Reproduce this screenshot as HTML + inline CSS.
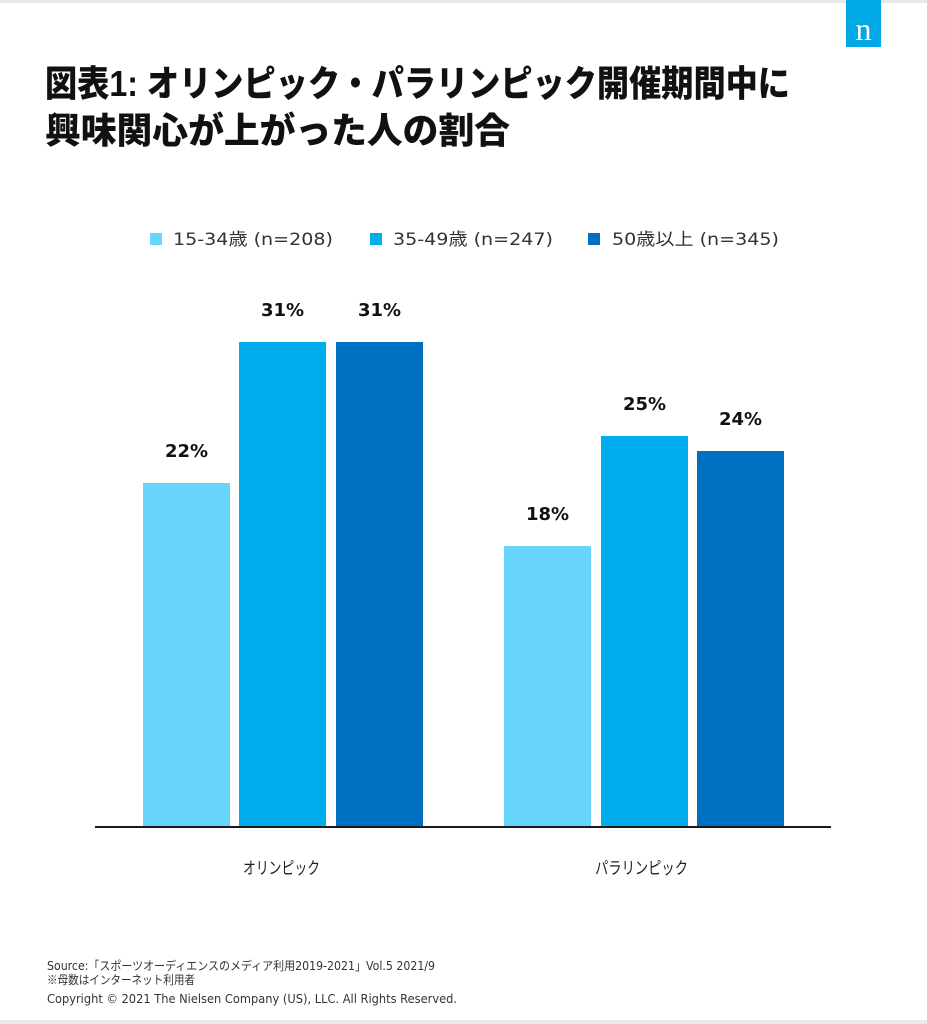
<!DOCTYPE html>
<html>
<head>
<meta charset="utf-8">
<style>
html,body{margin:0;padding:0;background:#fff;}
svg{display:block;}
</style>
</head>
<body>
<svg width="927" height="1024" viewBox="0 0 927 1024" xmlns="http://www.w3.org/2000/svg">
  <rect x="0" y="0" width="927" height="1024" fill="#ffffff"/>
  <!-- top and bottom strips -->
  <rect x="0" y="0" width="927" height="3" fill="#e6e9ec"/>
  <rect x="0" y="1020" width="927" height="4" fill="#e8ebee"/>

  <!-- logo -->
  <rect x="846" y="0" width="35" height="47" fill="#00a8e6"/>
  <text x="863.5" y="40" text-anchor="middle" font-family="'Liberation Serif', serif" font-size="32" fill="#ffffff">n</text>

  <!-- title -->
  <text x="45" y="96" font-family="'Liberation Sans','Noto Sans CJK JP',sans-serif" font-weight="900" font-size="36" fill="#111" textLength="745" lengthAdjust="spacingAndGlyphs">図表1: オリンピック・パラリンピック開催期間中に</text>
  <text x="45" y="143" font-family="'Liberation Sans','Noto Sans CJK JP',sans-serif" font-weight="900" font-size="36" fill="#111" textLength="465" lengthAdjust="spacingAndGlyphs">興味関心が上がった人の割合</text>

  <!-- legend -->
  <rect x="150" y="233" width="12" height="12" fill="#67d5f9"/>
  <text x="173" y="245" font-family="'DejaVu Sans','Noto Sans CJK JP',sans-serif" font-size="17" fill="#333" textLength="160" lengthAdjust="spacingAndGlyphs">15-34歳 (n=208)</text>
  <rect x="370" y="233" width="12" height="12" fill="#00aeef"/>
  <text x="393" y="245" font-family="'DejaVu Sans','Noto Sans CJK JP',sans-serif" font-size="17" fill="#333" textLength="160" lengthAdjust="spacingAndGlyphs">35-49歳 (n=247)</text>
  <rect x="588" y="233" width="12" height="12" fill="#0070c0"/>
  <text x="612" y="245" font-family="'DejaVu Sans','Noto Sans CJK JP',sans-serif" font-size="17" fill="#333" textLength="167" lengthAdjust="spacingAndGlyphs">50歳以上 (n=345)</text>

  <!-- bars group 1 -->
  <rect x="143" y="483" width="87" height="344" fill="#67d5f9"/>
  <rect x="239" y="342" width="87" height="485" fill="#00aeef"/>
  <rect x="336" y="342" width="87" height="485" fill="#0070c0"/>
  <!-- bars group 2 -->
  <rect x="504" y="546" width="87" height="281" fill="#67d5f9"/>
  <rect x="601" y="436" width="87" height="391" fill="#00aeef"/>
  <rect x="697" y="451" width="87" height="376" fill="#0070c0"/>

  <!-- value labels -->
  <g font-family="'DejaVu Sans',sans-serif" font-weight="700" font-size="18" fill="#111" text-anchor="middle">
    <text x="186.5" y="457">22%</text>
    <text x="282.5" y="316">31%</text>
    <text x="379.5" y="316">31%</text>
    <text x="547.5" y="520">18%</text>
    <text x="644.5" y="410">25%</text>
    <text x="740.5" y="425">24%</text>
  </g>

  <!-- axis -->
  <rect x="95" y="826" width="736" height="2" fill="#1a1a1a"/>

  <!-- category labels -->
  <text x="243" y="874" font-family="'Liberation Sans','Noto Sans CJK JP',sans-serif" font-size="17" fill="#222" textLength="77" lengthAdjust="spacingAndGlyphs">オリンピック</text>
  <text x="595" y="874" font-family="'Liberation Sans','Noto Sans CJK JP',sans-serif" font-size="17" fill="#222" textLength="93" lengthAdjust="spacingAndGlyphs">パラリンピック</text>

  <!-- footer -->
  <text x="47" y="970" font-family="'DejaVu Sans','Noto Sans CJK JP',sans-serif" font-size="12" fill="#333" textLength="388" lengthAdjust="spacingAndGlyphs">Source:「スポーツオーディエンスのメディア利用2019-2021」Vol.5 2021/9</text>
  <text x="47" y="984" font-family="'Liberation Sans','Noto Sans CJK JP',sans-serif" font-size="12" fill="#333" textLength="148" lengthAdjust="spacingAndGlyphs">※母数はインターネット利用者</text>
  <text x="47" y="1003" font-family="'DejaVu Sans',sans-serif" font-size="12" fill="#333" textLength="410" lengthAdjust="spacingAndGlyphs">Copyright © 2021 The Nielsen Company (US), LLC. All Rights Reserved.</text>
</svg>
</body>
</html>
